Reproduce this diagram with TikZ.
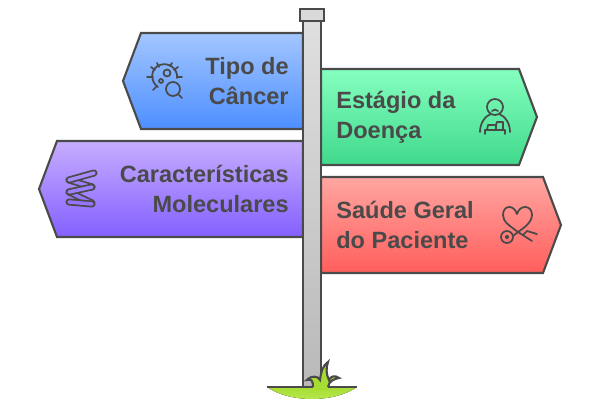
\documentclass[tikz,border=0pt]{standalone}
\usepackage{fontspec}
\setmainfont{Liberation Sans}
\definecolor{ink}{HTML}{4A4A4A}
\definecolor{blueTop}{HTML}{A3C6FF}
\definecolor{blueBot}{HTML}{4D8FFF}
\definecolor{greenTop}{HTML}{85FFBF}
\definecolor{greenBot}{HTML}{40D98C}
\definecolor{redTop}{HTML}{FFA6A1}
\definecolor{redBot}{HTML}{FF5E5C}
\definecolor{violetTop}{HTML}{C6ADFF}
\definecolor{violetBot}{HTML}{8460FF}
\definecolor{grassTop}{HTML}{A6DD33}
\definecolor{grassBot}{HTML}{BCEB55}
\tikzset{
    sign/.style={draw=ink, line width=1.2pt, line join=miter},
    label/.style={font=\fontsize{13.4}{17}\selectfont\bfseries, text=ink, inner sep=0pt},
    icon/.style={draw=ink, line width=1pt, line cap=round, line join=round},
    band/.style={icon, double=#1, double distance=2pt},
}
\begin{document}
\begin{tikzpicture}[x=0.02cm, y=-0.02cm]
    \useasboundingbox (0,0) rectangle (600,405);

    % Ground
    \fill[top color=grassTop, bottom color=grassBot] (267,387) .. controls (290,403) and (334,403) .. (357,387) -- cycle;

    % Signs
    \draw[sign, top color=blueTop, bottom color=blueBot] (303,33) -- (141,33) -- (123,81) -- (141,129) -- (303,129) -- cycle;
    \draw[sign, top color=greenTop, bottom color=greenBot] (321,69) -- (519,69) -- (537,117) -- (519,165) -- (321,165) -- cycle;
    \draw[sign, top color=redTop, bottom color=redBot] (321,177) -- (543,177) -- (561,225) -- (543,273) -- (321,273) -- cycle;
    \draw[sign, top color=violetTop, bottom color=violetBot] (303,141) -- (57,141) -- (39,189) -- (57,237) -- (303,237) -- cycle;

    % Post
    \draw[sign, top color=gray!25, bottom color=gray!55] (303,21) rectangle (321,387);
    \draw[sign, fill=gray!30] (300,9) rectangle (324,21);
    \draw[ink, line width=1.2pt] (267,387) -- (357,387);

    % Grass
    \fill[grassTop] (313,386) rectangle (328,390);
    \draw[ink, line width=1.2pt, fill=grassTop] (313,387) .. controls (313,380) and (311,379) .. (307,380) .. controls (312,375) and (318,376) .. (320,380) .. controls (321,372) and (323,365) .. (328,362) .. controls (326,368) and (326,374) .. (329,380) .. controls (331,376) and (335,375) .. (339,378) .. controls (334,379) and (329,381) .. (328,387);

    % Labels
    \node[label, anchor=east, align=right] (tipo) at (289,81) {Tipo de\\Câncer};
    \node[label, anchor=west, align=left] (estagio) at (336,117) {Estágio da\\Doença};
    \node[label, anchor=east, align=right] (carac) at (289,189) {Características\\Moleculares};
    \node[label, anchor=west, align=left] (saude) at (336,225) {Saúde Geral\\do Paciente};

    % Icon: virus and magnifier
    \draw[icon] (158,87) .. controls (150,82) and (150,68) .. (160,65) .. controls (168,62) and (178,68) .. (177,78);
    \draw[icon] (157,63) -- (159,67) (172,63) -- (170,66) (147,77) -- (153,77) (182,77) -- (177,77) (153,90) -- (157,86) (151,67) -- (155,70) (178,67) -- (174,70);
    \draw[icon] (167,73) circle (3.5) (161,81) circle (2);
    \draw[icon] (173,89) circle (7) (178,94) -- (182,98);

    % Icon: person at desk
    \draw[icon] (495,107) circle (8);
    \draw[icon] (492,111) .. controls (494,109) and (496,109) .. (498,111);
    \draw[icon] (480,132) .. controls (480,122) and (486,116) .. (490,114.5) (500,114.5) .. controls (504,116) and (510,122) .. (510,132);
    \draw[icon] (485,134) -- (485,130) -- (505,130) -- (505,134);
    \draw[icon] (487,130) -- (488,125) -- (496,125) -- (496,130) (496,125) -- (497,122) -- (503,122) -- (503,130);

    % Icon: heart and stethoscope
    \draw[icon] (532,241) -- (518,232) .. controls (510,226) and (503,222) .. (503,215) .. controls (503,205) and (514,204) .. (517,214) .. controls (520,204) and (532,205) .. (532,215) .. controls (532,222) and (524,228) .. (518,232) -- (513,236);
    \draw[icon] (507,237) circle (6) (507,237) circle (1.5);
    \draw[icon] (537,234) -- (527,231) -- (523,235);

    % Icon: coil
    \draw[band=violetTop!40!violetBot] (69,180) -- (92,187);
    \draw[band=violetTop!30!violetBot] (69,192) -- (92,203);
    \draw[band=violetTop!55!violetBot] (69,180) -- (94,173);
    \draw[band=violetTop!40!violetBot] (69,192) -- (92,187);
    \draw[band=violetTop!25!violetBot] (69,202) -- (92,204);
\end{tikzpicture}
\end{document}
